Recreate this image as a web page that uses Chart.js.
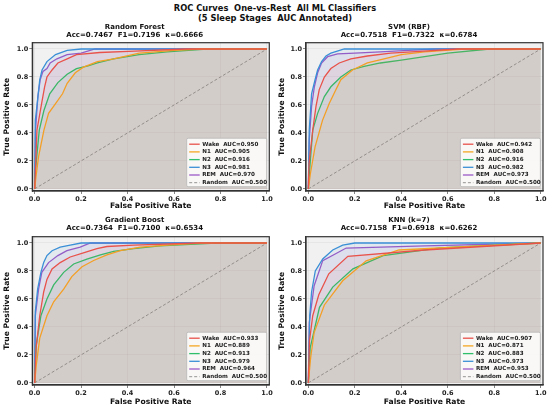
<!DOCTYPE html>
<html><head><meta charset="utf-8">
<script src="https://cdn.jsdelivr.net/npm/chart.js@4.4.1/dist/chart.umd.min.js"></script>
<style>
html,body{margin:0;padding:0;background:#fff;width:550px;height:409px;overflow:hidden}
#main{position:absolute;left:0;top:3px;width:550px;text-align:center;font-family:"DejaVu Sans";font-weight:bold;font-size:8.3px;line-height:10px;color:#111;white-space:pre}
canvas{position:absolute}
</style></head><body>
<div id="main">ROC Curves  One-vs-Rest  All ML Classifiers
(5 Sleep Stages  AUC Annotated)</div>
<canvas id="c0" width="275" height="191" style="left:0;top:20px"></canvas>
<canvas id="c1" width="275" height="191" style="left:275px;top:20px"></canvas>
<canvas id="c2" width="275" height="198" style="left:0;top:211px"></canvas>
<canvas id="c3" width="275" height="198" style="left:275px;top:211px"></canvas>
<script>
// ---- data ----
const classes = ['Wake', 'N1', 'N2', 'N3', 'REM'];
const classColors = ['#e8524a', '#f5a623', '#2fbf6a', '#3a8fd6', '#9b59c6'];
const classifiers = ['Random Forest', 'SVM (RBF)', 'Gradient Boost', 'KNN (k=7)'];
const accValues = [0.7467, 0.7518, 0.7364, 0.7158];
const f1Values = [0.7196, 0.7322, 0.7100, 0.6918];
const kappaValues = [0.6666, 0.6784, 0.6534, 0.6262];
const aucRF = [0.950, 0.905, 0.916, 0.981, 0.970];
const aucSVM = [0.942, 0.908, 0.916, 0.982, 0.973];
const aucGB = [0.933, 0.889, 0.913, 0.979, 0.964];
const aucKNN = [0.907, 0.871, 0.883, 0.973, 0.953];
const tickValues = [0, 0.2, 0.4, 0.6, 0.8, 1.0];
const randomLine = [[0, 0], [1, 1]];

const rfWake = [[0,0],[0.005,0.19],[0.01,0.42],[0.03,0.61],[0.043,0.73],[0.053,0.80],[0.075,0.85],[0.1,0.90],[0.14,0.93],[0.18,0.96],[0.28,0.975],[0.43,0.985],[0.65,1.0],[1,1]];
const rfN1 = [[0,0],[0.006,0.09],[0.017,0.23],[0.04,0.42],[0.06,0.54],[0.09,0.61],[0.12,0.68],[0.14,0.755],[0.175,0.83],[0.21,0.87],[0.27,0.91],[0.34,0.93],[0.45,0.97],[0.6,0.99],[0.71,1.0],[1,1]];
const rfN2 = [[0,0],[0.004,0.14],[0.02,0.42],[0.04,0.56],[0.065,0.68],[0.1,0.76],[0.14,0.82],[0.18,0.86],[0.23,0.88],[0.27,0.9],[0.34,0.93],[0.45,0.96],[0.57,0.98],[0.74,1.0],[1,1]];
const rfN3 = [[0,0],[0.003,0.49],[0.013,0.64],[0.022,0.78],[0.032,0.85],[0.053,0.91],[0.09,0.96],[0.14,0.99],[0.2,1.0],[1,1]];
const rfREM = [[0,0],[0.004,0.42],[0.014,0.66],[0.024,0.78],[0.036,0.84],[0.053,0.86],[0.067,0.9],[0.096,0.93],[0.14,0.96],[0.2,0.97],[0.26,1.0],[1,1]];

const svmWake = [[0,0],[0.003,0.18],[0.019,0.42],[0.033,0.59],[0.047,0.71],[0.069,0.80],[0.097,0.86],[0.133,0.90],[0.183,0.93],[0.254,0.95],[0.354,0.97],[0.497,0.985],[0.64,1.0],[1,1]];
const svmN1 = [[0,0],[0.009,0.11],[0.029,0.30],[0.061,0.49],[0.09,0.61],[0.119,0.71],[0.14,0.78],[0.19,0.85],[0.254,0.90],[0.326,0.93],[0.4,0.96],[0.5,0.98],[0.67,1.0],[1,1]];
const svmN2 = [[0,0],[0.009,0.21],[0.019,0.42],[0.04,0.54],[0.069,0.66],[0.097,0.73],[0.14,0.80],[0.183,0.85],[0.24,0.875],[0.31,0.90],[0.4,0.92],[0.5,0.945],[0.6,0.97],[0.78,1.0],[1,1]];
const svmN3 = [[0,0],[0.004,0.42],[0.014,0.68],[0.029,0.78],[0.04,0.85],[0.057,0.91],[0.076,0.95],[0.097,0.97],[0.155,1.0],[1,1]];
const svmREM = [[0,0],[0.004,0.35],[0.014,0.59],[0.026,0.73],[0.04,0.83],[0.057,0.90],[0.083,0.945],[0.126,0.965],[0.2,0.97],[0.31,0.98],[0.43,0.99],[0.55,1.0],[1,1]];

const gbWake = [[0,0],[0.006,0.245],[0.022,0.48],[0.039,0.65],[0.053,0.74],[0.075,0.815],[0.11,0.86],[0.153,0.90],[0.21,0.93],[0.268,0.96],[0.311,0.975],[0.426,0.985],[0.71,1.0],[1,1]];
const gbN1 = [[0,0],[0.007,0.125],[0.022,0.32],[0.053,0.48],[0.082,0.58],[0.125,0.67],[0.16,0.76],[0.204,0.83],[0.254,0.875],[0.311,0.915],[0.369,0.945],[0.455,0.97],[0.57,0.985],[0.71,1.0],[1,1]];
const gbN2 = [[0,0],[0.007,0.27],[0.027,0.48],[0.053,0.60],[0.082,0.70],[0.125,0.79],[0.168,0.85],[0.225,0.885],[0.283,0.915],[0.34,0.94],[0.426,0.96],[0.54,0.98],[0.78,1.0],[1,1]];
const gbN3 = [[0,0],[0.003,0.51],[0.013,0.67],[0.027,0.79],[0.039,0.86],[0.053,0.91],[0.075,0.945],[0.11,0.97],[0.153,0.985],[0.2,1.0],[1,1]];
const gbREM = [[0,0],[0.003,0.48],[0.017,0.67],[0.031,0.79],[0.06,0.86],[0.1,0.91],[0.139,0.945],[0.196,0.97],[0.24,1.0],[1,1]];

const knnWake = [[0,0],[0.005,0.3],[0.019,0.48],[0.045,0.63],[0.088,0.78],[0.17,0.905],[0.5,0.95],[1,1]];
const knnN1 = [[0,0],[0.01,0.18],[0.025,0.36],[0.069,0.557],[0.148,0.73],[0.249,0.873],[0.39,0.95],[1,1]];
const knnN2 = [[0,0],[0.008,0.25],[0.048,0.54],[0.105,0.685],[0.192,0.815],[0.322,0.91],[0.567,0.965],[1,1]];
const knnN3 = [[0,0],[0.006,0.48],[0.014,0.65],[0.03,0.80],[0.062,0.886],[0.105,0.95],[0.148,0.985],[0.2,1.0],[1,1]];
const knnREM = [[0,0],[0.004,0.43],[0.025,0.695],[0.062,0.874],[0.163,0.964],[0.5,0.98],[1,1]];

const curves = [
  [rfWake, rfN1, rfN2, rfN3, rfREM],
  [svmWake, svmN1, svmN2, svmN3, svmREM],
  [gbWake, gbN1, gbN2, gbN3, gbREM],
  [knnWake, knnN1, knnN2, knnN3, knnREM]
];
const aucs = [aucRF, aucSVM, aucGB, aucKNN];

// ---- layout per panel ----
const FONT = 'DejaVu Sans';
const panels = [
  {id:'c0', yW:32.3, padR:5.7, xH:20, tTop:3, tBot:3.6, xTitlePad:0},
  {id:'c1', yW:31, padR:7, xH:20, tTop:3, tBot:3.6, xTitlePad:0},
  {id:'c2', yW:32.3, padR:5.7, xH:24, tTop:5, tBot:4.6, xTitlePad:2.8},
  {id:'c3', yW:31, padR:7, xH:24, tTop:5, tBot:4.6, xTitlePad:2.8}
];

function hexA(hex, a){
  const n = parseInt(hex.slice(1), 16);
  return `rgba(${(n>>16)&255},${(n>>8)&255},${n&255},${a})`;
}

const areaBg = {
  id: 'areaBg',
  beforeDraw(chart){
    const {ctx, chartArea: ca} = chart;
    ctx.save();
    ctx.fillStyle = '#f1f1f1';
    ctx.fillRect(ca.left, ca.top, ca.right - ca.left, ca.bottom - ca.top);
    ctx.restore();
  }
};

const framePlugin = {
  id: 'frame',
  afterDatasetsDraw(chart){
    const {ctx, chartArea: ca} = chart;
    ctx.save();
    ctx.strokeStyle = '#333';
    ctx.lineWidth = 1.2;
    ctx.strokeRect(ca.left, ca.top, ca.right - ca.left, ca.bottom - ca.top);
    ctx.restore();
  }
};

const boxLegend = {
  id: 'boxLegend',
  afterDraw(chart){
    const {ctx, chartArea: ca} = chart;
    const ds = chart.data.datasets;
    const w = 80, h = 48.5;
    const x = ca.right - 2.6 - w, y = ca.bottom - 4.3 - h;
    ctx.save();
    ctx.beginPath();
    if (ctx.roundRect) ctx.roundRect(x, y, w, h, 1.5); else ctx.rect(x, y, w, h);
    ctx.fillStyle = 'rgba(255,255,255,0.85)';
    ctx.fill();
    ctx.strokeStyle = '#b5b5b5';
    ctx.lineWidth = 0.8;
    ctx.stroke();
    ctx.font = `bold 5.6px "${FONT}"`;
    ctx.textBaseline = 'middle';
    ctx.textAlign = 'left';
    ds.forEach((d, i) => {
      const cy = y + 6 + i * 7.7;
      ctx.beginPath();
      ctx.setLineDash(d.borderDash || []);
      ctx.strokeStyle = d.borderColor;
      ctx.lineWidth = d.borderWidth;
      ctx.moveTo(x + 2.5, cy);
      ctx.lineTo(x + 13, cy);
      ctx.stroke();
      ctx.setLineDash([]);
      ctx.fillStyle = '#222';
      ctx.fillText(d.label, x + 15.5, cy);
    });
    ctx.restore();
  }
};

panels.forEach((p, k) => {
  const datasets = curves[k].map((pts, i) => ({
    label: `${classes[i]}  AUC=${aucs[k][i].toFixed(3)}`,
    data: pts.map(([x, y]) => ({x, y})),
    borderColor: classColors[i],
    backgroundColor: hexA(classColors[i], 0.075),
    fill: 'origin',
    borderWidth: 1.3,
    pointRadius: 0,
    tension: 0
  }));
  datasets.push({
    label: 'Random  AUC=0.500',
    data: randomLine.map(([x, y]) => ({x, y})),
    borderColor: '#8a8a8a',
    borderDash: [3, 2],
    borderWidth: 0.9,
    fill: false,
    pointRadius: 0
  });
  const axisCommon = (title, titlePad) => ({
    type: 'linear',
    afterBuildTicks: s => { s.ticks = tickValues.map(v => ({value: v})); },
    grid: {color: 'rgba(0,0,0,0.08)', lineWidth: 0.6, tickColor: '#333', tickLength: 3, drawTicks: true},
    border: {display: true, color: '#333', width: 1.2},
    ticks: {font: {family: FONT, size: 6.5, weight: 'bold'}, color: '#222', padding: 1, maxRotation: 0,
      callback: v => Number(v).toFixed(1)},
    title: {display: true, text: title, color: '#111', font: {family: FONT, size: 7.6, weight: 'bold', lineHeight: 1.2}, padding: titlePad}
  });
  const xAxis = Object.assign(axisCommon('False Positive Rate', {top: 0, bottom: p.xTitlePad}), {
    min: -0.01, max: 1.01, afterFit: s => { s.height = p.xH; }
  });
  const yAxis = Object.assign(axisCommon('True Positive Rate', {top: 2.9, bottom: 0}), {
    min: -0.015, max: 1.045, afterFit: s => { s.width = p.yW; }
  });
  new Chart(document.getElementById(p.id), {
    type: 'line',
    data: {datasets},
    options: {
      responsive: false,
      animation: false,
      layout: {padding: {left: 0, right: p.padR, top: 0, bottom: 0}},
      scales: {x: xAxis, y: yAxis},
      plugins: {
        legend: {display: false},
        tooltip: {enabled: false},
        title: {
          display: true,
          text: [classifiers[k], `Acc=${accValues[k].toFixed(4)}  F1=${f1Values[k].toFixed(4)}  κ=${kappaValues[k].toFixed(4)}`],
          color: '#111',
          font: {family: FONT, size: 7, weight: 'bold', lineHeight: 1.15},
          padding: {top: p.tTop, bottom: p.tBot}
        }
      }
    },
    plugins: [areaBg, framePlugin, boxLegend]
  });
});
</script>
</body></html>
